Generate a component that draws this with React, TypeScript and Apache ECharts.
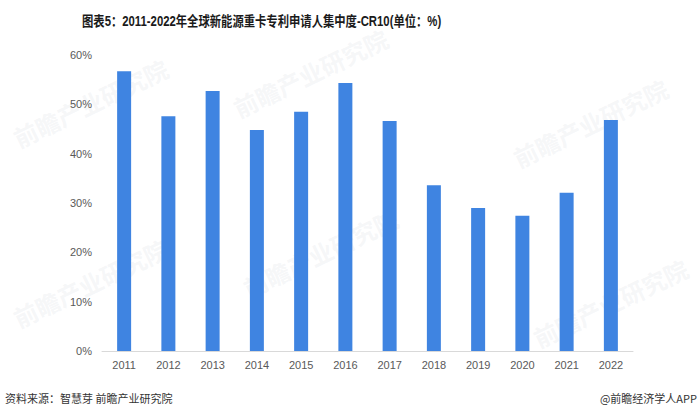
import React, { useEffect, useRef } from "react";
import * as echarts from "echarts";

const years = ["2011", "2012", "2013", "2014", "2015", "2016", "2017", "2018", "2019", "2020", "2021", "2022"];
const cr10 = [56.7, 47.6, 52.7, 44.8, 48.5, 54.3, 46.6, 33.6, 29.0, 27.4, 32.1, 46.8];
const yTicks = [0, 10, 20, 30, 40, 50, 60];

const titleText = "图表5：2011-2022年全球新能源重卡专利申请人集中度-CR10(单位：%)";
const sourceText = "资料来源：智慧芽 前瞻产业研究院";
const brandText = "@前瞻经济学人APP";

const watermarks = [
  [20, 150], [240, 120], [520, 170], [20, 330], [250, 300], [540, 350],
];

export default function App() {
  const ref = useRef<HTMLDivElement>(null);
  useEffect(() => {
    if (!ref.current) return;
    const chart = echarts.init(ref.current, null, { renderer: "svg" });
    const wm: any[] = watermarks.map(([x, y]) => ({
      type: "text",
      x,
      y,
      rotation: Math.PI / 7,
      silent: true,
      z: -1,
      style: {
        text: "前瞻产业研究院",
        fill: "rgba(200,205,215,0.18)",
        font: "bold 24px 'Noto Sans CJK SC'",
        textVerticalAlign: "bottom",
      },
    }));
    chart.setOption({
      animation: false,
      backgroundColor: "#ffffff",
      grid: { left: 102, right: 67, top: 55, bottom: 65, containLabel: false },
      xAxis: {
        type: "category",
        data: years,
        axisLine: { show: true, lineStyle: { color: "#d9d9d9", width: 1 } },
        axisTick: { show: false },
        axisLabel: { color: "#595959", fontSize: 11, margin: 8, fontFamily: "Arial, 'Liberation Sans', sans-serif" },
      },
      yAxis: {
        type: "value",
        min: yTicks[0],
        max: yTicks[yTicks.length - 1],
        interval: 10,
        splitLine: { show: false },
        axisLine: { show: false },
        axisTick: { show: false },
        axisLabel: { color: "#595959", fontSize: 11, margin: 10, formatter: "{value}%", fontFamily: "Arial, 'Liberation Sans', sans-serif" },
      },
      series: [
        {
          type: "bar",
          data: cr10,
          barWidth: 14,
          itemStyle: { color: "#3f84e1" },
        },
      ],
      graphic: [
        ...wm,
        {
          type: "text",
          x: 82,
          y: 21,
          scaleX: 0.81,
          style: {
            text: titleText,
            fill: "#1a1a1a",
            font: "bold 14px 'Liberation Sans', 'Noto Sans CJK SC', sans-serif",
            textVerticalAlign: "middle",
          },
        },
        {
          type: "text",
          x: 5,
          y: 398,
          style: {
            text: sourceText,
            fill: "#333333",
            font: "11px 'Noto Sans CJK SC', sans-serif",
            textVerticalAlign: "middle",
          },
        },
        {
          type: "text",
          x: 697,
          y: 398,
          style: {
            text: brandText,
            fill: "#333333",
            font: "11px 'Noto Sans CJK SC', sans-serif",
            textVerticalAlign: "middle",
            textAlign: "right",
          },
        },
      ],
    });
    return () => chart.dispose();
  }, []);
  return <div ref={ref} style={{ width: 700, height: 416, position: "absolute", left: 0, top: 0 }} />;
}
